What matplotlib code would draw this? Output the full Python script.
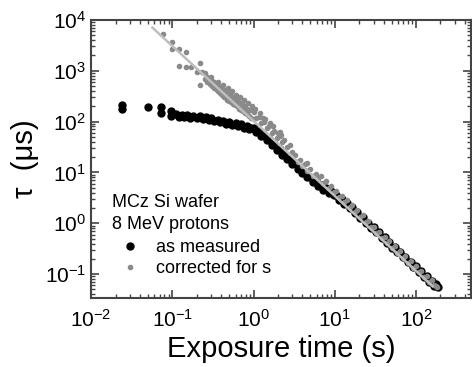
import matplotlib
matplotlib.use("Agg")
import matplotlib.pyplot as plt
from matplotlib.lines import Line2D

plt.rcParams["font.family"] = ["Liberation Sans", "DejaVu Sans"]

# as measured (black)
meas_t = [0.024, 0.024, 0.05, 0.072, 0.072, 0.096, 0.096,
          0.11, 0.12, 0.13, 0.14, 0.15, 0.165, 0.18, 0.2, 0.22, 0.24,
          0.26, 0.28, 0.3, 0.33, 0.36, 0.39, 0.42, 0.46, 0.5, 0.55,
          0.6, 0.65, 0.7, 0.76, 0.82, 0.88, 0.94,
          1.0, 1.08, 1.16, 1.25, 1.35, 1.45, 1.56, 1.68, 1.8, 1.95,
          2.1, 2.25, 2.4, 2.6, 2.8, 3.0, 3.25, 3.5, 3.75, 4.0,
          4.3, 4.6, 5.0, 5.4, 5.8, 6.2, 6.7, 7.2, 7.8, 8.4,
          9.0, 9.7, 10.5, 11.3, 12.2, 13.1, 14.1, 15.2, 16.4, 17.6,
          19, 20.5, 22, 24, 26, 28, 30, 32, 35, 38,
          41, 44, 47, 51, 55, 59, 64, 69, 74, 80,
          86, 93, 100, 108, 116, 125, 135, 145, 156, 168, 176, 185]
meas_tau = [210, 180, 195, 190, 150, 160, 128,
            140, 124, 135, 122, 133, 120, 131, 116, 126, 111,
            121, 106, 116, 102, 109, 96, 104, 91, 99, 86,
            93, 82, 88, 76, 82, 70, 76,
            76, 62, 65, 52.5, 55, 43.6, 44.7, 35, 36, 27.5,
            28.8, 22.4, 23.4, 18.1, 18.6, 14.8, 15.1, 11.8, 12.3, 9.7,
            10.2, 8.1, 8.1, 6.46, 6.83, 5.52, 5.79, 4.57, 4.88, 3.99,
            4.34, 3.54, 3.52, 2.82, 2.95, 2.37, 2.50, 2.0, 2.05, 1.61,
            1.65, 1.28, 1.33, 1.016, 1.035, 0.809, 0.839, 0.665, 0.668, 0.515,
            0.530, 0.415, 0.433, 0.334, 0.343, 0.269, 0.274, 0.214, 0.221, 0.172,
            0.177, 0.138, 0.142, 0.110, 0.114, 0.0889, 0.0912, 0.0714, 0.0738, 0.0575, 0.063, 0.0547]

# corrected for s (grey)
corr_t = [0.077, 0.098, 0.098, 0.12, 0.12, 0.146, 0.146, 0.17, 0.2, 0.22,
          0.23, 0.22,
          0.25, 0.25, 0.27, 0.27, 0.29, 0.29, 0.31, 0.31, 0.33, 0.33,
          0.35, 0.35, 0.37, 0.37, 0.39, 0.39, 0.41, 0.41, 0.43, 0.43, 0.43,
          0.45, 0.45, 0.47, 0.47, 0.5, 0.5, 0.53, 0.53, 0.56, 0.56,
          0.59, 0.59, 0.62, 0.62, 0.66, 0.66, 0.7, 0.7, 0.74, 0.74,
          0.78, 0.78, 0.83, 0.83, 0.88, 0.88, 0.94, 0.94,
          0.3, 0.36, 0.42, 0.48, 0.54, 0.6, 0.68, 0.76, 0.85, 0.95,
          1.05, 1.2, 1.4, 1.6, 1.75,
          1.0, 1.08, 1.16, 1.25, 1.3, 1.35, 1.45, 1.56, 1.68, 1.8, 1.95,
          2.0, 2.1, 2.1, 2.2, 2.25, 2.4, 2.6, 2.8, 3.0, 3.25, 3.5, 3.75, 4.0,
          4.3, 4.5, 4.6, 5.0, 5.4, 5.8, 6.2, 6.7, 7.2, 7.8, 8.4,
          9.0, 9.7, 10.5, 11.3, 12.2, 13.1, 14.1, 15.2, 16.4, 17.6,
          19, 20.5, 22, 24, 26, 28, 30, 32, 35, 38,
          41, 44, 47, 51, 55, 59, 64, 69, 74, 80,
          86, 93, 100, 108, 116, 125, 135, 145, 156, 168, 176, 182]
corr_tau = [5300, 3700, 2700, 1250, 2700, 2350, 1200, 1200, 950, 1440,
            950, 530,
            900, 680, 760, 600, 720, 540, 620, 500, 600, 450,
            560, 420, 500, 390, 470, 360, 440, 330, 410, 310, 370,
            380, 300, 380, 270, 340, 250, 320, 240, 300, 220,
            270, 210, 260, 200, 240, 180, 220, 170, 210, 160,
            190, 150, 180, 140, 170, 130, 165, 120,
            760, 600, 520, 450, 400, 340, 300, 260, 230, 200,
            175, 150, 110, 95, 80,
            156, 115, 125, 93, 120, 100, 75, 81, 60, 65.5, 48.4,
            60, 52, 63, 55, 39, 42.8, 31.6, 34.2, 25.6, 21.8, 16.3, 17.7, 13.3,
            14.4, 15.5, 10.8, 11.5, 8.57, 9.27, 7.83, 8.41, 6.28, 6.71, 5.01,
            5.44, 4.05, 4.34, 3.24, 3.47, 2.60, 2.81, 2.09, 2.24, 1.68,
            1.81, 1.34, 1.46, 1.06, 1.135, 0.847, 0.859, 0.650, 0.684, 0.504,
            0.542, 0.406, 0.443, 0.327, 0.351, 0.263, 0.281, 0.209, 0.226, 0.168,
            0.182, 0.135, 0.145, 0.108, 0.117, 0.0869, 0.0933, 0.0698, 0.0755, 0.0617, 0.058, 0.056]

# power-law guide line
fit_t = [0.057, 160]
fit_tau = [7000, 0.058]

fig = plt.figure(figsize=(4.72, 3.67), dpi=100)
ax = fig.add_axes([0.193, 0.188, 0.804, 0.758])

ax.plot(meas_t, meas_tau, "o", color="black", ms=5, mec="black", zorder=2)
ax.plot(corr_t, corr_tau, "o", color="#8a8a8a", ms=3, mec="#8a8a8a", zorder=3)
ax.plot(fit_t, fit_tau, "-", color="#bdbdbd", lw=1.8, zorder=4)

ax.set_xscale("log")
ax.set_yscale("log")
ax.set_xlim(0.01, 470)
ax.set_ylim(0.034, 1e4)

ax.tick_params(which="both", direction="in", top=True, right=True,
               colors="#444444", labelcolor="black", labelsize=15)
ax.tick_params(which="major", length=6, width=1.2)
ax.tick_params(which="minor", length=3, width=1)
ax.tick_params(axis="x", pad=8)
for s in ax.spines.values():
    s.set_color("#444444")
    s.set_linewidth(1.5)

ax.set_xlabel("Exposure time (s)", fontsize=21, labelpad=3)
ax.set_ylabel("τ  (μs)", fontsize=21, labelpad=4)

ax.text(0.055, 0.345, "MCz Si wafer", transform=ax.transAxes,
        fontsize=13, va="center", ha="left")
ax.text(0.055, 0.266, "8 MeV protons", transform=ax.transAxes,
        fontsize=13, va="center", ha="left")
handles = [Line2D([], [], ls="", marker="o", color="black", ms=5),
           Line2D([], [], ls="", marker="o", color="#8a8a8a", ms=3)]
ax.legend(handles, ["as measured", "corrected for s"], loc="upper left",
          bbox_to_anchor=(0.056, 0.243), frameon=False, fontsize=13,
          handlelength=1.0, handletextpad=0.9, borderpad=0, labelspacing=0.2)

fig.savefig("out.png", dpi=100)
